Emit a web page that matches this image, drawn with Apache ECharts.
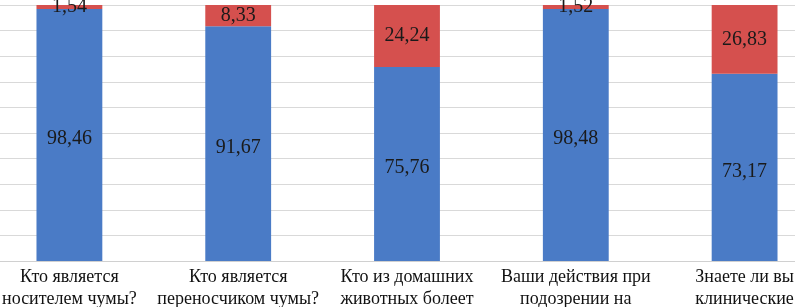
<!DOCTYPE html>
<html><head><meta charset="utf-8">
<script src="https://cdn.jsdelivr.net/npm/echarts@6/dist/echarts.min.js"></script>
<style>html,body{margin:0;padding:0;background:#fff;overflow:hidden;width:795px;height:307px}#c{position:absolute;left:-15px;top:0;width:844px;height:307px}</style>
</head><body><div id="c"></div>
<script>
const categories = [
  "Кто является\nносителем чумы?",
  "Кто является\nпереносчиком чумы?",
  "Кто из домашних\nживотных болеет",
  "Ваши действия при\nподозрении на",
  "Знаете ли вы\nклинические"
];
const blueValues = [98.46, 91.67, 75.76, 98.48, 73.17];
const redValues = [1.54, 8.33, 24.24, 1.52, 26.83];
const yTicks = { min: 0, max: 100, interval: 10 };

const fmt = p => p.value.toFixed(2).replace('.', ',');
const chart = echarts.init(document.getElementById('c'));
chart.setOption({
  animation: false,
  grid: { left: 0, right: 0, top: 5, bottom: 46, containLabel: false, outerBoundsMode: 'none' },
  xAxis: {
    type: 'category', data: categories,
    axisTick: { show: false },
    axisLine: { lineStyle: { color: '#d0d0d0', width: 1 } },
    axisLabel: { fontFamily: 'Liberation Serif', fontSize: 18, color: '#111', lineHeight: 22, margin: 5, interval: 0 }
  },
  yAxis: {
    type: 'value', min: yTicks.min, max: yTicks.max, interval: yTicks.interval,
    axisLabel: { show: false }, axisLine: { show: false }, axisTick: { show: false },
    splitLine: { lineStyle: { color: '#d9d9d9', width: 1 } }
  },
  series: [
    { type: 'bar', stack: 's', data: blueValues, barWidth: '39%',
      itemStyle: { color: '#4A7BC6' },
      label: { show: true, position: 'inside', offset: [0, 4], formatter: fmt, fontFamily: 'Liberation Serif', fontSize: 20, color: '#1a1a1a' } },
    { type: 'bar', stack: 's', data: redValues, barWidth: '39%',
      itemStyle: { color: '#D5504E' },
      label: { show: true, position: 'inside', formatter: fmt, fontFamily: 'Liberation Serif', fontSize: 20, color: '#1a1a1a' } }
  ]
});
</script></body></html>
